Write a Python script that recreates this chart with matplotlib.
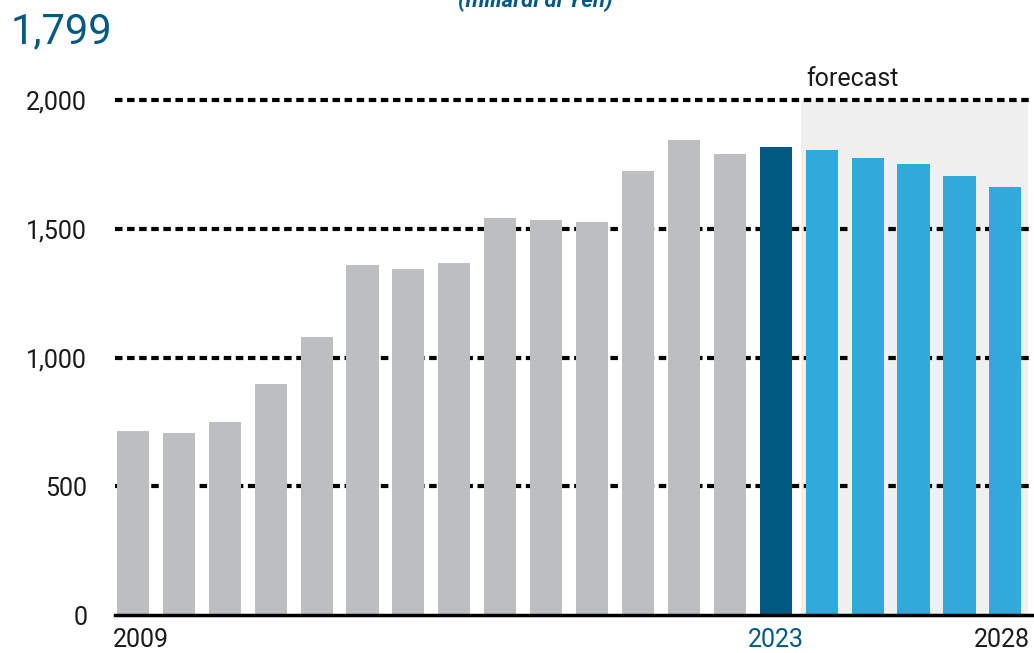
import matplotlib.pyplot as plt
from matplotlib.ticker import FuncFormatter
import matplotlib.transforms as mtransforms

# annual values (miliardi di Yen), 2024-2028 forecast
years = list(range(2009, 2029))
values = [715, 707, 750, 897, 1080, 1359, 1343, 1366, 1541, 1534,
          1526, 1724, 1844, 1790, 1817, 1805, 1774, 1751, 1704, 1662]
current_year = 2023
headline = "1,799"
unit_label = "(miliardi di Yen)"
y_ticks = [0, 500, 1000, 1500, 2000]
year_labels = [2009, 2023, 2028]

grey = "#BDBEC0"
dark_blue = "#005A82"
light_blue = "#30A9DB"
shade = "#F0F0F0"

plt.rcParams['font.family'] = ['Roboto', 'DejaVu Sans']

fig = plt.figure(figsize=(10.34, 6.53), dpi=100)
ax = fig.add_axes([0.1112, 0.0578, 0.8878, 0.7891])

colors = []
for y in years:
    if y < current_year:
        colors.append(grey)
    elif y == current_year:
        colors.append(dark_blue)
    else:
        colors.append(light_blue)

# forecast band
ax.axvspan(current_year + 0.55, years[-1] + 0.5, ymin=0, ymax=1,
           color=shade, zorder=0, lw=0)

for t in y_ticks[1:]:
    ax.axhline(t, color="black", lw=3, dashes=(1.8, 1.1), zorder=1,
               dash_capstyle="butt", clip_on=False)

ax.bar(years, values, width=0.7, color=colors, zorder=2)

ax.set_xlim(years[0] - 0.39, years[-1] + 0.6)
ax.set_ylim(0, 2000)
ax.set_yticks(y_ticks)
ax.yaxis.set_major_formatter(FuncFormatter(lambda v, p: f"{int(v):,}"))
ax.tick_params(axis="y", length=0, labelsize=18, pad=20, labelcolor="#1a1a1a")
ax.set_xticks([])

for s in ["top", "right", "left"]:
    ax.spines[s].set_visible(False)
ax.spines["bottom"].set_linewidth(2.5)
ax.spines["bottom"].set_zorder(3)

# year labels under the axis
trans = mtransforms.blended_transform_factory(ax.transData, fig.transFigure)
ax.text(years[0] - 0.44, 0.020, str(year_labels[0]), transform=trans,
        ha="left", va="center", fontsize=18, color="#1a1a1a")
ax.text(year_labels[1], 0.020, str(year_labels[1]), transform=trans,
        ha="center", va="center", fontsize=18, color=dark_blue)
ax.text(years[-1] + 0.54, 0.020, str(year_labels[2]), transform=trans,
        ha="right", va="center", fontsize=18, color="#1a1a1a")

ax.text(current_year + 0.66, 2083, "forecast", ha="left", va="center",
        fontsize=18, color="#1a1a1a")

fig.text(0.01, 0.952, headline, ha="left", va="center", fontsize=30,
         color=dark_blue, family=['Liberation Sans Narrow', 'Roboto'])
fig.text(0.518, 0.989, unit_label, ha="center", va="baseline", fontsize=16,
         color=dark_blue, fontweight="bold", fontstyle="italic")

fig.savefig("out.png", dpi=100)
